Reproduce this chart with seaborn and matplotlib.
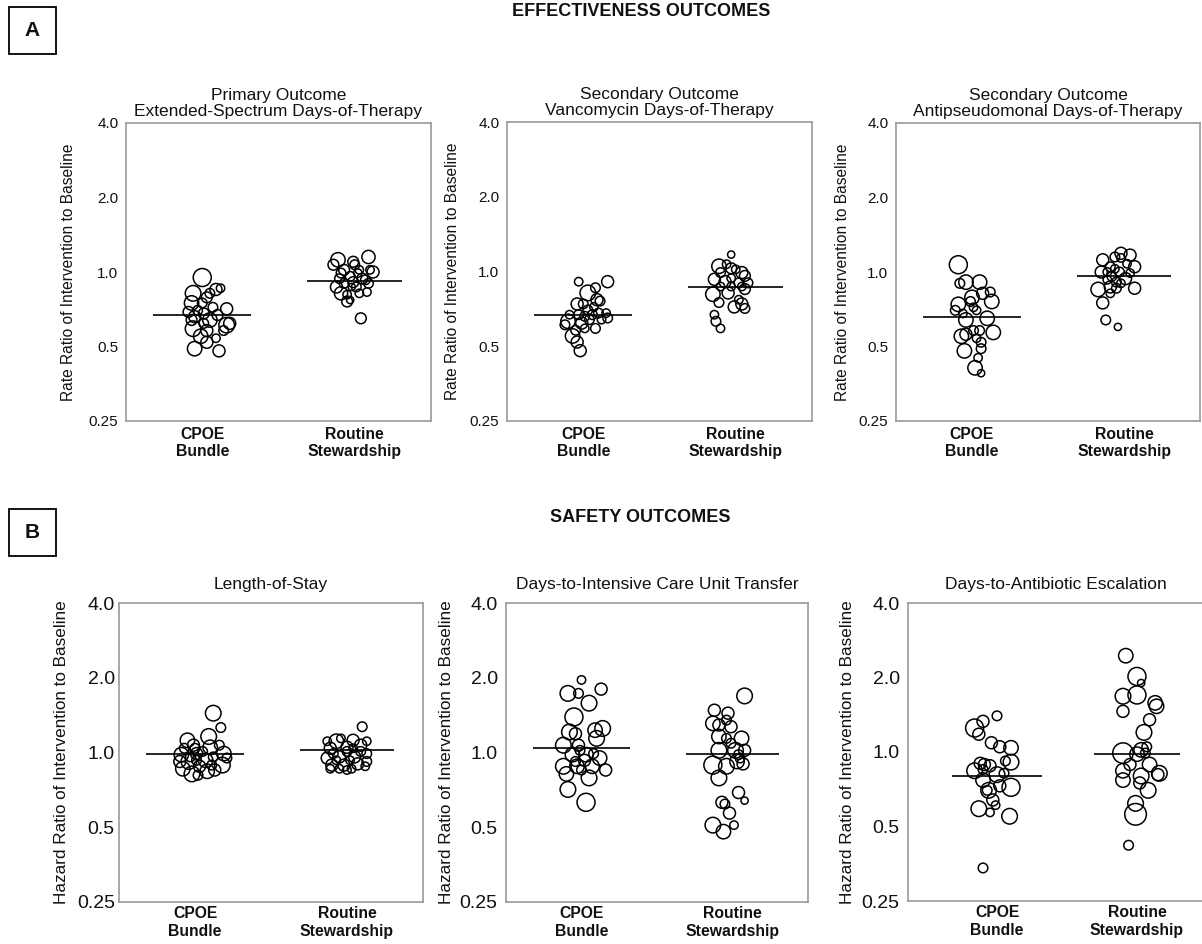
import numpy as np
import pandas as pd
import matplotlib
matplotlib.use('Agg')
import matplotlib.pyplot as plt
import seaborn as sns
from matplotlib.patches import Rectangle

# --- Data ---
categories = ['CPOE\nBundle', 'Routine\nStewardship']
y_ticks = [0.25, 0.5, 1.0, 2.0, 4.0]
y_tick_labels = ['0.25', '0.5', '1.0', '2.0', '4.0']

titles = ['Primary Outcome\nExtended-Spectrum Days-of-Therapy',
          'Secondary Outcome\nVancomycin Days-of-Therapy',
          'Secondary Outcome\nAntipseudomonal Days-of-Therapy',
          'Length-of-Stay',
          'Days-to-Intensive Care Unit Transfer',
          'Days-to-Antibiotic Escalation']

cpoe_medians = [0.67, 0.67, 0.66, 0.99, 1.04, 0.80]
routine_medians = [0.92, 0.87, 0.96, 1.02, 0.99, 0.98]

# each unit: ratio, horizontal jitter (category units), bubble diameter (px)
a1_cpoe_y = [0.95, 0.82, 0.75, 0.85, 0.82, 0.86, 0.75, 0.71, 0.66, 0.64, 0.61, 0.62, 0.59, 0.58,
             0.55, 0.54, 0.49, 0.52, 0.48, 0.70, 0.68, 0.67, 0.72, 0.64, 0.62, 0.58, 0.79, 0.69]
a1_cpoe_dx = [0.00, -0.06, -0.07, 0.09, 0.05, 0.12, 0.00, 0.16, -0.05, 0.05, 0.16, 0.18, -0.06, 0.03,
              -0.01, 0.09, -0.05, 0.03, 0.11, -0.03, 0.01, 0.10, 0.07, -0.07, 0.01, 0.14, 0.03, -0.09]
a1_cpoe_d = [15, 13, 12, 10, 8, 7, 8, 10, 10, 12, 13, 10, 13, 10, 12, 7, 12, 10, 10, 8, 9, 9, 8, 9, 8, 8, 9, 9]

a1_rout_y = [1.12, 1.10, 1.15, 1.00, 1.02, 1.02, 0.87, 0.82, 0.76, 0.65, 0.83, 0.91, 0.87, 0.96,
             0.94, 0.90, 0.82, 0.81, 0.90, 0.94, 0.99, 1.07, 0.77, 0.93, 1.07, 0.99, 1.02, 0.87]
a1_rout_dx = [-0.11, -0.01, 0.09, 0.12, -0.07, 0.03, -0.12, -0.09, -0.05, 0.04, 0.08, -0.01, 0.01, -0.03,
              0.05, -0.07, 0.03, -0.05, 0.09, -0.10, 0.02, -0.14, -0.03, 0.07, 0.00, -0.09, 0.10, -0.02]
a1_rout_d = [12, 9, 11, 10, 9, 7, 10, 11, 9, 9, 7, 9, 8, 8, 9, 8, 7, 7, 8, 8, 7, 9, 6, 8, 8, 8, 7, 6]

a2_cpoe_y = [0.91, 0.91, 0.82, 0.77, 0.76, 0.74, 0.70, 0.65, 0.63, 0.62, 0.59, 0.55, 0.52, 0.48,
             0.66, 0.67, 0.68, 0.67, 0.64, 0.64, 0.61, 0.74, 0.72, 0.58, 0.59, 0.86, 0.67, 0.68]
a2_cpoe_dx = [-0.03, 0.16, 0.03, 0.09, 0.11, -0.04, 0.03, 0.16, -0.10, -0.01, 0.08, -0.07, -0.04, -0.02,
              0.01, 0.06, 0.10, -0.03, 0.04, 0.12, -0.12, 0.00, 0.07, -0.05, 0.01, 0.08, -0.09, 0.15]
a2_cpoe_d = [7, 10, 13, 10, 8, 10, 8, 8, 12, 10, 8, 12, 10, 10, 8, 8, 8, 8, 8, 7, 8, 8, 7, 8, 7, 8, 7, 7]

a2_rout_y = [1.17, 1.05, 1.03, 0.99, 0.96, 0.93, 0.91, 0.90, 0.85, 0.81, 0.82, 0.75, 0.72, 0.74,
             0.67, 0.63, 0.59, 0.90, 1.02, 0.99, 0.94, 0.87, 0.87, 1.07, 0.71, 0.77, 0.87]
a2_rout_dx = [-0.03, -0.11, -0.03, 0.04, 0.06, -0.14, -0.07, 0.02, 0.06, -0.15, -0.05, -0.11, -0.01, 0.04,
              -0.14, -0.13, -0.10, 0.08, 0.00, -0.10, -0.03, 0.04, -0.03, -0.06, 0.06, 0.02, -0.10]
a2_rout_d = [6, 12, 9, 10, 9, 10, 10, 8, 9, 12, 10, 8, 10, 10, 7, 8, 7, 8, 7, 8, 7, 7, 7, 7, 8, 7, 7]

a3_cpoe_y = [1.07, 0.90, 0.91, 0.91, 0.83, 0.79, 0.74, 0.76, 0.76, 0.82, 0.65, 0.64, 0.57, 0.55,
             0.58, 0.58, 0.56, 0.52, 0.48, 0.49, 0.45, 0.41, 0.39, 0.70, 0.68, 0.72, 0.54, 0.70]
a3_cpoe_dx = [-0.09, -0.08, 0.05, -0.04, 0.12, 0.00, -0.09, 0.13, -0.01, 0.07, 0.10, -0.04, 0.14, -0.07,
              0.01, 0.05, -0.04, 0.06, -0.05, 0.06, 0.04, 0.02, 0.06, 0.03, -0.06, 0.01, 0.03, -0.11]
a3_cpoe_d = [15, 8, 12, 12, 8, 12, 12, 12, 8, 10, 12, 12, 12, 12, 8, 8, 10, 8, 12, 8, 7, 12, 6, 7, 7, 7, 7, 8]

a3_rout_y = [1.19, 1.17, 1.15, 1.05, 1.12, 1.00, 1.05, 1.00, 0.94, 0.85, 0.86, 0.87, 0.86, 0.75,
             0.64, 0.60, 0.96, 0.91, 1.08, 0.93, 0.90, 1.03, 0.99, 0.82, 1.14, 1.00]
a3_rout_dx = [-0.02, 0.04, -0.06, 0.07, -0.14, -0.15, -0.09, -0.03, 0.01, -0.17, 0.07, -0.09, -0.05, -0.14,
              -0.12, -0.04, -0.08, -0.05, 0.02, -0.11, -0.02, -0.06, 0.04, -0.09, -0.02, -0.11]
a3_rout_d = [10, 10, 8, 10, 10, 10, 8, 8, 10, 12, 10, 10, 8, 10, 8, 6, 8, 8, 7, 7, 7, 7, 7, 7, 7, 7]

b1_cpoe_y = [1.44, 1.26, 1.16, 1.12, 1.07, 1.05, 0.98, 0.99, 0.92, 0.93, 0.89, 0.86, 0.82, 0.84,
             0.85, 0.99, 0.88, 0.92, 0.96, 1.04, 1.01, 0.96, 0.95, 1.04, 0.81, 0.89, 1.07, 0.93]
b1_cpoe_dx = [0.12, 0.17, 0.09, -0.05, -0.01, 0.10, -0.09, 0.19, -0.04, 0.07, 0.18, -0.08, -0.02, 0.08,
              0.13, 0.01, 0.03, -0.10, 0.12, 0.00, 0.05, -0.03, 0.21, -0.07, 0.02, 0.11, 0.16, 0.01]
b1_cpoe_d = [13, 8, 13, 12, 10, 12, 12, 12, 13, 12, 13, 12, 13, 12, 10, 10, 10, 10, 8, 8, 8, 8, 8, 8, 8, 8, 8, 8]

b1_rout_y = [1.27, 1.11, 1.12, 1.04, 1.05, 1.07, 0.99, 0.95, 0.96, 0.96, 0.89, 0.89, 0.90, 0.86,
             0.99, 1.01, 1.01, 0.92, 1.11, 1.14, 1.11, 0.93, 0.93, 0.86, 1.04, 0.86, 0.85, 0.88]
b1_rout_dx = [0.10, -0.07, 0.04, -0.11, 0.00, 0.09, 0.13, -0.13, -0.05, 0.05, -0.10, -0.02, 0.07, 0.03,
              -0.09, 0.00, 0.09, 0.13, -0.13, -0.04, 0.13, -0.07, 0.02, -0.05, 0.04, -0.11, 0.00, 0.12]
b1_rout_d = [8, 12, 10, 10, 10, 10, 8, 10, 10, 10, 10, 10, 10, 7, 8, 8, 8, 8, 7, 7, 7, 7, 7, 7, 7, 7, 7, 7]

b2_cpoe_y = [1.96, 1.73, 1.73, 1.80, 1.58, 1.39, 1.25, 1.21, 1.19, 1.14, 1.07, 1.07, 0.98, 0.98, 0.95,
             0.88, 0.88, 0.88, 0.85, 0.82, 0.79, 0.71, 0.63, 0.93, 1.02, 0.99, 0.85, 1.23, 0.92]
b2_cpoe_dx = [0.00, -0.09, -0.02, 0.13, 0.05, -0.05, 0.14, -0.08, -0.04, 0.10, -0.12, -0.02, -0.06, 0.03, 0.12,
              -0.12, -0.03, 0.07, 0.16, -0.10, 0.05, -0.09, 0.03, 0.02, -0.01, 0.08, 0.00, 0.09, -0.04]
b2_cpoe_d = [7, 13, 8, 10, 13, 15, 13, 13, 10, 13, 13, 10, 12, 12, 12, 13, 12, 12, 10, 12, 13, 13, 15, 10, 8, 8, 8, 12, 8]

b2_rout_y = [1.69, 1.48, 1.44, 1.31, 1.29, 1.27, 1.35, 1.14, 1.16, 1.14, 1.02, 1.02, 1.02, 0.89, 0.92,
             0.90, 0.88, 0.79, 0.69, 0.64, 0.63, 0.62, 0.57, 0.51, 0.51, 0.48, 0.98, 1.09, 0.95]
b2_rout_dx = [0.08, -0.12, -0.03, -0.13, -0.09, -0.01, -0.04, 0.06, -0.09, -0.04, -0.09, 0.02, 0.08, -0.13, 0.03,
              0.07, -0.04, -0.09, 0.04, 0.08, -0.07, -0.05, -0.02, -0.13, 0.01, -0.06, 0.04, -0.01, 0.05]
b2_rout_d = [13, 10, 10, 12, 10, 10, 8, 12, 12, 8, 13, 13, 10, 15, 12, 10, 13, 13, 10, 6, 10, 8, 10, 13, 7, 12, 8, 8, 8]

b3_cpoe_y = [1.40, 1.25, 1.33, 1.18, 1.09, 1.05, 1.04, 0.91, 0.90, 0.89, 0.88, 0.84, 0.81, 0.77,
             0.72, 0.70, 0.64, 0.59, 0.57, 0.55, 0.34, 0.73, 0.82, 0.70, 0.61, 0.92, 0.85]
b3_cpoe_dx = [0.00, -0.16, -0.10, -0.13, -0.04, 0.02, 0.10, 0.10, -0.12, -0.09, -0.05, -0.16, 0.00, -0.10,
              0.10, -0.06, -0.03, -0.13, -0.05, 0.09, -0.10, 0.02, 0.05, -0.07, -0.01, 0.06, -0.10]
b3_cpoe_d = [8, 15, 10, 10, 10, 10, 12, 13, 10, 10, 10, 13, 13, 12, 15, 13, 10, 13, 7, 13, 8, 10, 8, 8, 7, 8, 8]

b3_rout_y = [2.45, 2.02, 1.90, 1.68, 1.70, 1.46, 1.58, 1.53, 1.35, 1.20, 0.99, 1.02, 0.98, 0.99,
             0.84, 0.77, 0.89, 0.82, 0.80, 0.70, 0.62, 0.56, 0.42, 0.75, 0.81, 0.89, 1.05]
b3_rout_dx = [-0.08, 0.00, 0.03, -0.10, 0.00, -0.10, 0.13, 0.14, 0.09, 0.05, -0.10, 0.03, 0.00, 0.06,
              -0.10, -0.10, 0.09, 0.16, 0.03, 0.08, -0.01, -0.01, -0.06, 0.02, 0.15, -0.05, 0.07]
b3_rout_d = [12, 15, 6, 13, 15, 10, 12, 12, 10, 13, 17, 12, 12, 8, 12, 12, 12, 13, 13, 13, 13, 18, 8, 10, 10, 10, 8]

groups = [
    ((a1_cpoe_y, a1_cpoe_dx, a1_cpoe_d), (a1_rout_y, a1_rout_dx, a1_rout_d)),
    ((a2_cpoe_y, a2_cpoe_dx, a2_cpoe_d), (a2_rout_y, a2_rout_dx, a2_rout_d)),
    ((a3_cpoe_y, a3_cpoe_dx, a3_cpoe_d), (a3_rout_y, a3_rout_dx, a3_rout_d)),
    ((b1_cpoe_y, b1_cpoe_dx, b1_cpoe_d), (b1_rout_y, b1_rout_dx, b1_rout_d)),
    ((b2_cpoe_y, b2_cpoe_dx, b2_cpoe_d), (b2_rout_y, b2_rout_dx, b2_rout_d)),
    ((b3_cpoe_y, b3_cpoe_dx, b3_cpoe_d), (b3_rout_y, b3_rout_dx, b3_rout_d)),
]

# --- Layout (pixel boxes: left, top, right, bottom) ---
W, H = 1202, 944
boxes = [(126, 123, 431, 421), (507, 122, 812, 421), (896, 123, 1200, 421),
         (119, 603, 423, 902), (506, 603, 808, 902), (908, 603, 1204, 901)]
xlims = [(-0.5, 1.5)] * 5 + [(-0.636, 1.479)]
ylabel_x = [-0.164, -0.154, -0.151, -0.164, -0.172, -0.18]
ytick_pad = [5.5, 5.5, 5.5, 3, 6, 6]

sns.set_style('white')
plt.rcParams['font.family'] = ['Liberation Sans', 'DejaVu Sans']
plt.rcParams['text.color'] = '#111111'
plt.rcParams['axes.labelcolor'] = '#111111'
plt.rcParams['xtick.color'] = '#111111'
plt.rcParams['ytick.color'] = '#111111'

fig = plt.figure(figsize=(W / 100, H / 100), dpi=100)

all_d = sorted(set(sum([list(g[0][2]) + list(g[1][2]) for g in groups], [])))
size_map = {d: (0.72 * d * 1.2) ** 2 for d in all_d}

for i, ((cp, rt), box) in enumerate(zip(groups, boxes)):
    l, t, r, b = box
    ax = fig.add_axes([l / W, 1 - b / H, (r - l) / W, (b - t) / H])
    rows = []
    for code, (ys, dxs, ds) in enumerate([cp, rt]):
        for yv, dx, dv in zip(ys, dxs, ds):
            rows.append({'xpos': code + dx, 'ratio': yv, 'd': dv})
    df = pd.DataFrame(rows)
    sns.scatterplot(data=df, x='xpos', y='ratio', size='d', sizes=size_map, legend=False,
                    facecolor='none', edgecolor='black', linewidth=1.1, ax=ax)
    ax.hlines([cpoe_medians[i], routine_medians[i]], [-0.32, 0.69], [0.32, 1.31],
              color='black', linewidth=1.2, zorder=3)

    ax.set_yscale('log', base=2)
    ax.set_ylim(0.25, 4.0)
    ax.set_yticks(y_ticks)
    ax.set_yticklabels(y_tick_labels)
    ax.yaxis.set_minor_locator(matplotlib.ticker.NullLocator())
    ax.set_xlim(*xlims[i])
    ax.set_xticks([0, 1])
    ax.set_xticklabels(categories, fontweight='bold', fontsize=11.3)
    ax.set_xlabel('')
    row_a = i < 3
    ax.tick_params(axis='y', length=0, pad=ytick_pad[i], labelsize=11 if row_a else 14)
    ax.tick_params(axis='x', length=0, pad=4 if row_a else 3)
    ax.set_ylabel('Rate Ratio of Intervention to Baseline' if row_a
                  else 'Hazard Ratio of Intervention to Baseline',
                  fontsize=11.2 if row_a else 12.3)
    ax.yaxis.set_label_coords(ylabel_x[i], 0.5)
    ax.set_title(titles[i], fontsize=12.5, pad=5 if row_a else 10, linespacing=1.1)
    for sp in ax.spines.values():
        sp.set_color('#9a9a9a')
        sp.set_linewidth(1.2)

# panel letters and section headings
for letter, top in [('A', 7), ('B', 509)]:
    fig.patches.append(Rectangle((9 / W, 1 - (top + 47) / H), 47 / W, 47 / H,
                                 transform=fig.transFigure, fill=False,
                                 edgecolor='black', linewidth=1.3))
    fig.text(32.5 / W, 1 - (top + 23.5) / H, letter, ha='center', va='center',
             fontsize=15, fontweight='bold')

fig.text(641 / W, 1 - 12 / H, 'EFFECTIVENESS OUTCOMES', ha='center', va='center',
         fontsize=13, fontweight='bold')
fig.text(640 / W, 1 - 517 / H, 'SAFETY OUTCOMES', ha='center', va='center',
         fontsize=13, fontweight='bold')

fig.savefig('out.png', dpi=100)
